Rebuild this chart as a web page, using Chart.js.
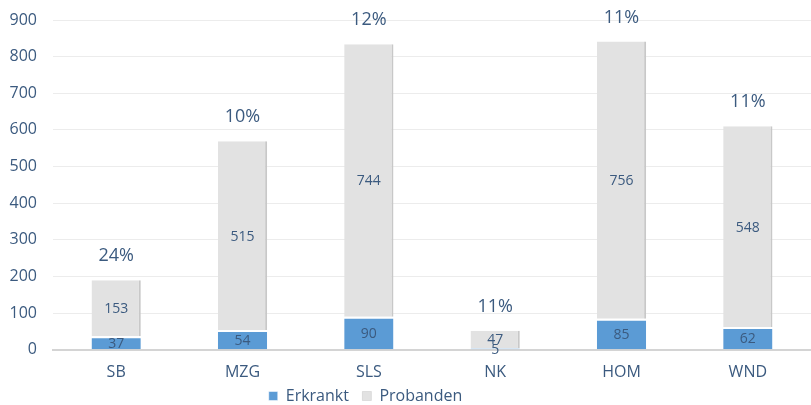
<!DOCTYPE html>
<html>
<head>
<meta charset="utf-8">
<script src="https://cdn.jsdelivr.net/npm/chart.js@4"></script>
<style>
  html, body { margin: 0; padding: 0; background: #fff; }
  #wrap { width: 811px; height: 405px; }
</style>
</head>
<body>
<div id="wrap"><canvas id="chart" width="811" height="405"></canvas></div>
<script>
// Daten
const categories = ['SB', 'MZG', 'SLS', 'NK', 'HOM', 'WND'];
const erkrankt = [37, 54, 90, 5, 85, 62];
const probanden = [153, 515, 744, 47, 756, 548];
const percentLabels = ['24%', '10%', '12%', '11%', '11%', '11%'];
const yTicks = [0, 100, 200, 300, 400, 500, 600, 700, 800, 900];

const textColor = '#3b5a7f';
const fontFamily = '"Open Sans", "Noto Sans", sans-serif';

// Beschriftungen in den Balken und Prozentwerte darüber
const labelPlugin = {
    id: 'barLabels',
    afterLayout(chart) {
        // Legende etwas nach links versetzt wie im Original
        chart.legend.left -= 40;
        chart.legend.right -= 40;
    },
    afterDatasetsDraw(chart) {
        const ctx = chart.ctx;
        ctx.save();
        ctx.fillStyle = textColor;
        ctx.textAlign = 'center';
        ctx.textBaseline = 'middle';
        chart.data.datasets.forEach((ds, di) => {
            const meta = chart.getDatasetMeta(di);
            meta.data.forEach((bar, i) => {
                const mid = (bar.y + bar.base) / 2;
                ctx.font = '14px ' + fontFamily;
                ctx.fillText(String(ds.data[i]), bar.x, mid + 1);
            });
        });
        // Prozentwerte
        const top = chart.getDatasetMeta(1);
        ctx.font = '18px ' + fontFamily;
        top.data.forEach((bar, i) => {
            ctx.fillText(percentLabels[i], bar.x, bar.y - 24);
        });
        ctx.restore();
    }
};

new Chart(document.getElementById('chart'), {
    type: 'bar',
    data: {
        labels: categories,
        datasets: [
            {
                label: 'Erkrankt',
                data: erkrankt,
                backgroundColor: '#5b9bd5',
                borderColor: '#ffffff',
                borderWidth: { top: 2 },
                borderSkipped: false,
                categoryPercentage: 1,
                barPercentage: 0.39
            },
            {
                label: 'Probanden',
                data: probanden,
                backgroundColor: '#e2e2e2',
                borderColor: '#c8c8c8',
                borderWidth: { right: 2 },
                borderSkipped: false,
                categoryPercentage: 1,
                barPercentage: 0.39
            }
        ]
    },
    options: {
        responsive: false,
        animation: false,
        layout: { padding: { top: 19, right: 0, left: 0, bottom: -9 } },
        plugins: {
            tooltip: { enabled: false },
            legend: {
                position: 'bottom',
                labels: {
                    boxWidth: 9,
                    boxHeight: 9,
                    padding: 1,
                    color: textColor,
                    font: { family: fontFamily, size: 16 },
                    generateLabels: chart => {
                        const items = Chart.defaults.plugins.legend.labels.generateLabels(chart);
                        items[0].text = 'Erkrankt   ';
                        return items;
                    }
                }
            }
        },
        scales: {
            x: {
                stacked: true,
                grid: { display: false },
                border: { color: '#d4d4d4', width: 2 },
                ticks: { color: textColor, font: { family: fontFamily, size: 16 }, padding: 5 }
            },
            y: {
                stacked: true,
                min: 0,
                max: 900,
                afterBuildTicks: s => { s.ticks = yTicks.map(v => ({ value: v })); },
                afterFit: s => { s.width = 53; },
                grid: { color: '#ececec', lineWidth: 1, drawTicks: false },
                border: { display: false },
                ticks: { color: textColor, font: { family: fontFamily, size: 16, lineHeight: 0.5 }, padding: 16 }
            }
        }
    },
    plugins: [labelPlugin]
});
</script>
</body>
</html>
